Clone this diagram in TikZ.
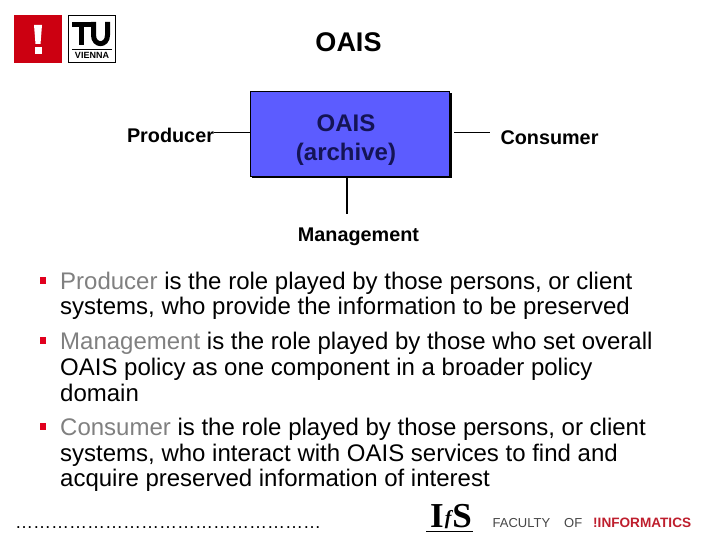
\documentclass[tikz,border=0pt]{standalone}
\usepackage{fontspec}
\setmainfont{Liberation Sans}
\newfontfamily\ifsfont{Liberation Serif}
\usetikzlibrary{positioning}
\definecolor{tured}{RGB}{204,0,17}
\definecolor{bulletred}{RGB}{225,0,30}
\definecolor{boxblue}{RGB}{92,92,255}
\definecolor{boxtext}{RGB}{20,20,85}
\definecolor{rolegray}{RGB}{128,128,128}
\definecolor{infored}{RGB}{190,30,45}
\definecolor{facgray}{RGB}{70,70,70}
\tikzset{
  rolelabel/.style={font=\bfseries\fontsize{19.8}{22}\selectfont,inner sep=0pt},
  bodyline/.style={anchor=base west,inner sep=0pt,font=\fontsize{24}{26}\selectfont},
  bulletmark/.style={fill=bulletred},
  link/.style={draw=black,line width=1pt}
}
\begin{document}
\begin{tikzpicture}[x=1pt,y=-1pt]
 \useasboundingbox (0,0) rectangle (720,540);
 % logos
 \fill[tured](14,15) rectangle (62,63);
 \fill[white](34,25)--(42,25)--(40.5,44)--(35.5,44)--cycle;
 \fill[white](34.5,47) rectangle (41.5,54);
 \draw[black,line width=1pt](68.5,15.5) rectangle (115.5,62.5);
 \fill[black](72,22) rectangle (92,27);
 \fill[black](79,22) rectangle (84,45);
 \draw[black,line width=5pt](93.5,22)--(93.5,35) .. controls (93.5,46.5) and (107.5,46.5) .. (107.5,35)--(107.5,22);
 \fill[black](72,49) rectangle (112,50);
 \node[inner sep=0pt,font=\bfseries\fontsize{9}{9}\selectfont] (tuvienna) at (92,55.5) {VIENNA};
 % title
 \node[inner sep=0pt,font=\bfseries\fontsize{27}{30}\selectfont] (title) at (348.5,42) {OAIS};
 % diagram
 \fill[black](252,93) rectangle (452,178.5);
 \node[draw=black,line width=0.8pt,fill=boxblue,minimum width=199pt,minimum height=85pt,inner sep=0pt] (archive) at (350,133.5) {};
 \node[inner sep=0pt,align=center,font=\bfseries\fontsize{24}{29}\selectfont,text=boxtext] (archivetext) at (346,140) {OAIS\\(archive)};
 \node[rolelabel] (producer) at (170.5,135.5) {Producer};
 \node[rolelabel] (consumer) at (549.5,137.5) {Consumer};
 \node[rolelabel] (management) at (358.5,237) {Management};
 \coordinate (prodend) at (archive.west|-0,133);
 \coordinate (consstart) at (454,133);
 \coordinate (consend) at (490,133);
 \coordinate (mgmtstart) at (347,178);
 \coordinate (mgmtend) at (347,214);
 \draw[link](producer.east|-prodend)--(prodend);
 \draw[link](consstart)--(consend);
 \draw[link,line width=1.5pt](mgmtstart)--(mgmtend);
 % text
 \fill[bulletmark](39.5,277) rectangle (46,284);
 \fill[bulletmark](39.5,337) rectangle (46,344);
 \fill[bulletmark](39.5,423) rectangle (46,430);
 \node[bodyline] (line1) at (60,289) {\textcolor{rolegray}{Producer} is the role played by those persons, or client};
 \node[bodyline] (line2) at (60,314) {systems, who provide the information to be preserved};
 \node[bodyline] (line3) at (60,349) {\textcolor{rolegray}{Management} is the role played by those who set overall};
 \node[bodyline] (line4) at (60,375) {OAIS policy as one component in a broader policy};
 \node[bodyline] (line5) at (60,401) {domain};
 \node[bodyline] (line6) at (60,435) {\textcolor{rolegray}{Consumer} is the role played by those persons, or client};
 \node[bodyline] (line7) at (60,461) {systems, who interact with OAIS services to find and};
 \node[bodyline] (line8) at (60,486.5) {acquire preserved information of interest};
 % footer
 \node[inner sep=0pt,anchor=base west,font=\fontsize{18}{20}\selectfont] (dots) at (15,528) {\ldots\ldots\ldots\ldots\ldots\ldots\ldots\ldots\ldots\ldots\ldots\ldots\ldots\ldots\ldots\ldots\ldots};
 \node[inner sep=0pt,font=\ifsfont\bfseries\fontsize{35}{35}\selectfont,anchor=base] (ifs) at (451,527) {I\kern1pt\raisebox{3pt}{\fontsize{20}{20}\selectfont\itshape f}\kern1pt S};
 \draw[black,line width=0.8pt](426,531)--(473,531);
 \node[inner sep=0pt,anchor=base west,font=\fontsize{13}{14}\selectfont,text=facgray] (faculty) at (492.5,527) {FACULTY};
 \node[inner sep=0pt,anchor=base west,font=\fontsize{13}{14}\selectfont,text=facgray] (of) at (564,527) {OF};
 \node[inner sep=0pt,anchor=base west,font=\bfseries\fontsize{13.6}{14}\selectfont,text=infored] (informatics) at (593,527) {!INFORMATICS};
\end{tikzpicture}
\end{document}
